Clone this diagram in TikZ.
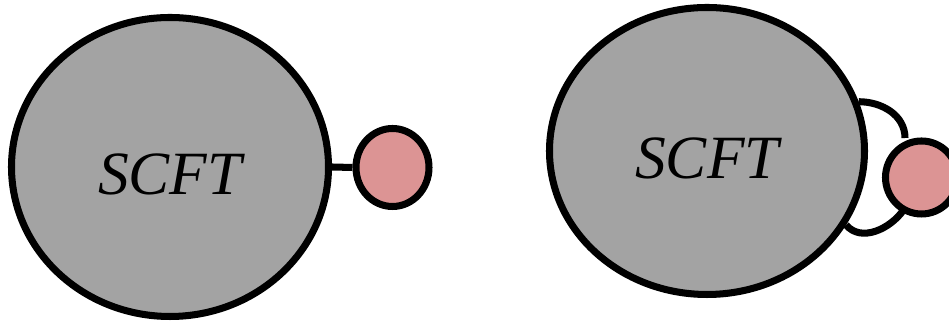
\documentclass[tikz,border=0pt]{standalone}
\usepackage{fontspec}
\setmainfont{Liberation Serif}
\usetikzlibrary{shapes.geometric}
\definecolor{ink}{HTML}{000000}
\definecolor{blobfill}{HTML}{A3A3A3}
\definecolor{dotfill}{HTML}{DC9494}
\newcommand{\blobfont}{\fontsize{35}{40}\selectfont\itshape}
\tikzset{
 every node/.append style={text=ink},
 blob/.style={ellipse,draw=ink,fill=blobfill,line width=4pt,inner sep=0pt,font=\blobfont,text height=1.12cm,text depth=0pt},
 dot/.style={ellipse,draw=ink,fill=dotfill,line width=4pt,inner sep=0pt},
 leg/.style={draw=ink,line width=4pt},
}
\begin{document}
\begin{tikzpicture}

\useasboundingbox (0,0) rectangle (18.98,6.48);
\node[blob,minimum width=6.34cm,minimum height=5.98cm] (b1) at (3.4,3.14) {SCFT};
\node[dot,minimum width=1.46cm,minimum height=1.56cm] (d1) at (7.85,3.13) {};
\draw[leg] (b1.east) -- (d1.west);
\node[blob,minimum width=6.3cm,minimum height=5.74cm] (b2) at (14.14,3.46) {SCFT};
\draw[leg] (b2.18) to[out=0,in=90] (18.1,3.72);
\draw[leg] (b2.-28) to[out=-50,in=235] (18.07,2.28);
\node[dot,minimum width=1.44cm,minimum height=1.46cm] (d2) at (18.43,2.93) {};

\end{tikzpicture}
\end{document}
